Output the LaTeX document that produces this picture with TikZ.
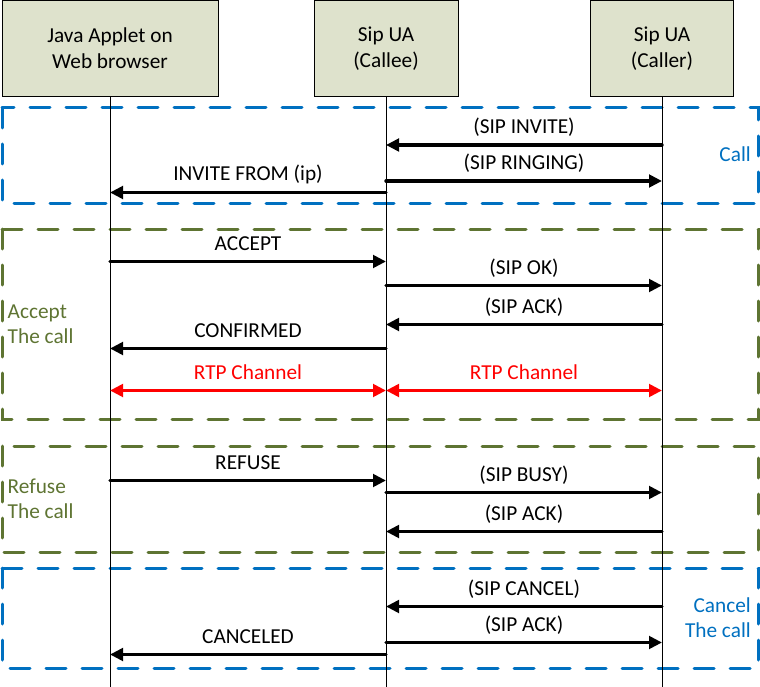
\documentclass[tikz,border=0pt]{standalone}
\usepackage{fontspec}
\setmainfont{Carlito}
\usetikzlibrary{arrows.meta}
\definecolor{hdrfill}{HTML}{DEE2CC}
\definecolor{framblue}{HTML}{0070C0}
\definecolor{framgreen}{HTML}{5E7432}
\definecolor{rtpred}{HTML}{FF0000}
\begin{document}
\begin{tikzpicture}[x=1pt,y=-1pt,
  every node/.style={font=\fontsize{21.3}{26}\selectfont},
  hdr/.style={draw=black,line width=1pt,fill=hdrfill,inner sep=0pt,align=center,minimum height=96pt},
  life/.style={line width=1pt,black},
  msg/.style={line width=3.4pt,line cap=round,-{Triangle[length=13pt,width=12.5pt]}},
  rtp/.style={line width=3.4pt,rtpred,{Triangle[length=13pt,width=12.5pt]}-{Triangle[length=13pt,width=12.5pt]}},
  lbl/.style={midway,anchor=base,yshift=11.5pt,inner sep=0pt},
  rlbl/.style={lbl,text=rtpred},
  bluefr/.style={draw=framblue,line width=3pt,line cap=round,dash pattern=on 20pt off 16pt},
  greenfr/.style={draw=framgreen,line width=3pt,line cap=round,dash pattern=on 20pt off 16pt},
  bside/.style={text=framblue,anchor=base east,inner sep=0pt},
  gside/.style={text=framgreen,anchor=base west,inner sep=0pt}]
\useasboundingbox (0,0) rectangle (760,687);
% frames
\draw[bluefr] (2,108) rectangle (758,204);
\draw[greenfr] (2,229) rectangle (758,419);
\draw[greenfr] (2,446) rectangle (758,552);
\draw[bluefr] (2,568) rectangle (758,668);
% headers
\node[hdr,minimum width=216pt] (applet) at (110,48.5) {Java Applet on\\Web browser};
\node[hdr,minimum width=144pt] (callee) at (386,48.5) {Sip UA\\(Callee)};
\node[hdr,minimum width=143pt] (caller) at (662,48.5) {Sip UA\\(Caller)};
\coordinate (appletend) at (110,687);
\coordinate (calleeend) at (386,687);
\coordinate (callerend) at (662,687);
\draw[life] (applet.south) -- (appletend);
\draw[life] (callee.south) -- (calleeend);
\draw[life] (caller.south) -- (callerend);
% Call
\draw[msg] (caller |- 0,145) -- node[lbl]{(SIP INVITE)} (callee |- 0,145);
\draw[msg] (callee |- 0,181) -- node[lbl]{(SIP RINGING)} (caller |- 0,181);
\draw[msg] (callee |- 0,192.5) -- node[lbl]{INVITE FROM (ip)} (applet |- 0,192.5);
% Accept
\draw[msg] (applet |- 0,261.5) -- node[lbl]{ACCEPT} (callee |- 0,261.5);
\draw[msg] (callee |- 0,285.5) -- node[lbl]{(SIP OK)} (caller |- 0,285.5);
\draw[msg] (caller |- 0,324.5) -- node[lbl]{(SIP ACK)} (callee |- 0,324.5);
\draw[msg] (callee |- 0,348.5) -- node[lbl]{CONFIRMED} (applet |- 0,348.5);
\draw[rtp] (applet |- 0,390.5) -- node[rlbl]{RTP Channel} (callee |- 0,390.5);
\draw[rtp] (callee |- 0,390.5) -- node[rlbl]{RTP Channel} (caller |- 0,390.5);
% Refuse
\draw[msg] (applet |- 0,480.5) -- node[lbl]{REFUSE} (callee |- 0,480.5);
\draw[msg] (callee |- 0,492.5) -- node[lbl]{(SIP BUSY)} (caller |- 0,492.5);
\draw[msg] (caller |- 0,531.5) -- node[lbl]{(SIP ACK)} (callee |- 0,531.5);
% Cancel
\draw[msg] (caller |- 0,606.5) -- node[lbl]{(SIP CANCEL)} (callee |- 0,606.5);
\draw[msg] (callee |- 0,642.5) -- node[lbl]{(SIP ACK)} (caller |- 0,642.5);
\draw[msg] (callee |- 0,654.5) -- node[lbl]{CANCELED} (applet |- 0,654.5);
% side labels
\node[bside] (calltxt) at (751,162) {Call};
\node[gside] (accept1) at (7.5,318) {Accept};
\node[gside] (accept2) at (7.5,343) {The call};
\node[gside] (refuse1) at (7.5,493) {Refuse};
\node[gside] (refuse2) at (7.5,518) {The call};
\node[bside] (cancel1) at (751,612) {Cancel};
\node[bside] (cancel2) at (751,637) {The call};
\end{tikzpicture}
\end{document}
